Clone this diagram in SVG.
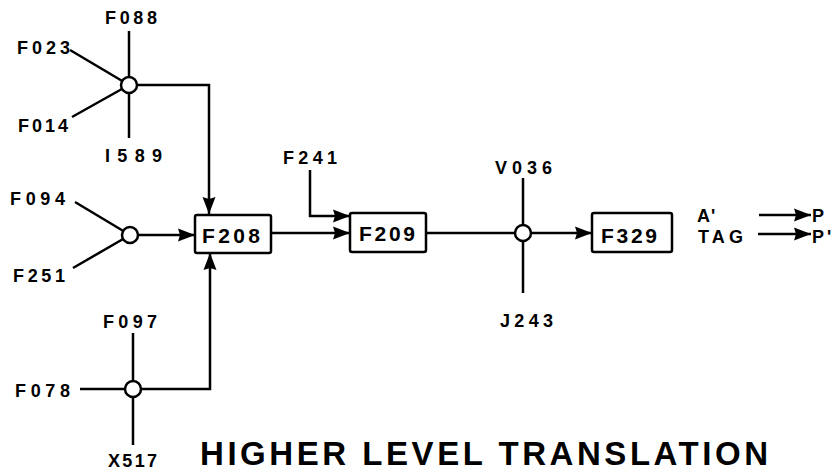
<svg xmlns="http://www.w3.org/2000/svg" width="839" height="472" viewBox="0 0 839 472">
<style>
.ln{fill:none;stroke:#000;stroke-width:2.5;stroke-linejoin:miter}
.ar{fill:none;stroke:#000;stroke-width:2.5;marker-end:url(#ah)}
.jn{fill:#fff;stroke:#000;stroke-width:2.5}
.bx{fill:#fff;stroke:#000;stroke-width:2.5}
.lb{font-family:"Liberation Sans",Arial,sans-serif;font-weight:bold;font-size:18px;fill:#000}
.bt{font-family:"Liberation Sans",Arial,sans-serif;font-weight:bold;font-size:21px;fill:#000}
.tt{font-family:"Liberation Sans",Arial,sans-serif;font-weight:bold;font-size:33px;fill:#000}
</style>
<defs>
<marker id="ah" markerUnits="userSpaceOnUse" markerWidth="18" markerHeight="14" refX="17" refY="7" orient="auto">
<path d="M0,0.5 L17,7 L0,13.5 L2,7 Z" fill="#000"/>
</marker>
</defs>
<rect width="839" height="472" fill="#fff"/>
<g id="connectors">
<line class="ln" x1="70" y1="50" x2="129" y2="85"/>
<line class="ln" x1="72" y1="117" x2="129" y2="85"/>
<line class="ln" x1="129" y1="31" x2="129" y2="138"/>
<polyline class="ar" points="129,85 209,85 209,214"/>
<line class="ln" x1="75" y1="202" x2="130" y2="235"/>
<line class="ln" x1="73" y1="268" x2="130" y2="235"/>
<line class="ar" x1="130" y1="235" x2="195" y2="235"/>
<line class="ln" x1="133" y1="333" x2="133" y2="445"/>
<line class="ln" x1="80" y1="389" x2="133" y2="389"/>
<polyline class="ar" points="133,389 210,389 210,253"/>
<polyline class="ar" points="310,170 310,216 350,216"/>
<line class="ar" x1="271" y1="233" x2="350" y2="233"/>
<line class="ln" x1="426" y1="233" x2="523" y2="233"/>
<line class="ar" x1="523" y1="233" x2="592" y2="233"/>
<line class="ln" x1="523" y1="178" x2="523" y2="293"/>
<line class="ar" x1="759" y1="215" x2="811" y2="215"/>
<line class="ar" x1="758" y1="234" x2="811" y2="234"/>
</g>
<g id="j-top"><circle class="jn" cx="129" cy="85" r="8"/></g>
<g id="j-mid"><circle class="jn" cx="130" cy="235" r="8"/></g>
<g id="j-bot"><circle class="jn" cx="133" cy="389" r="8"/></g>
<g id="j-right"><circle class="jn" cx="523" cy="233" r="8"/></g>
<g id="F208"><rect class="bx" x="195" y="215" width="76" height="38" rx="2"/><text class="bt" x="202" y="243" textLength="58" lengthAdjust="spacing">F208</text></g>
<g id="F209"><rect class="bx" x="350" y="213" width="76" height="39" rx="2"/><text class="bt" x="359" y="241" textLength="56" lengthAdjust="spacing">F209</text></g>
<g id="F329"><rect class="bx" x="592" y="213" width="80" height="39" rx="2"/><text class="bt" x="601" y="243" textLength="56" lengthAdjust="spacing">F329</text></g>
<g id="labels">
<text class="lb" x="105" y="24" textLength="52" lengthAdjust="spacing">F088</text>
<text class="lb" x="17" y="54" textLength="53" lengthAdjust="spacing">F023</text>
<text class="lb" x="18" y="132" textLength="50" lengthAdjust="spacing">F014</text>
<text class="lb" x="105" y="162" textLength="57" lengthAdjust="spacing">I589</text>
<text class="lb" x="10" y="205" textLength="55" lengthAdjust="spacing">F094</text>
<text class="lb" x="13" y="282" textLength="52" lengthAdjust="spacing">F251</text>
<text class="lb" x="103" y="328" textLength="54" lengthAdjust="spacing">F097</text>
<text class="lb" x="15" y="397" textLength="55" lengthAdjust="spacing">F078</text>
<text class="lb" x="108" y="467" textLength="49" lengthAdjust="spacing">X517</text>
<text class="lb" x="283" y="164" textLength="54" lengthAdjust="spacing">F241</text>
<text class="lb" x="495" y="174" textLength="57" lengthAdjust="spacing">V036</text>
<text class="lb" x="500" y="327" textLength="53" lengthAdjust="spacing">J243</text>
<text class="lb" x="697" y="222" letter-spacing="1">A'</text>
<text class="lb" x="698" y="243" textLength="45" lengthAdjust="spacing">TAG</text>
<text class="lb" x="812" y="222">P</text>
<text class="lb" x="812" y="243" letter-spacing="3">P'</text>
</g>
<g id="title"><text class="tt" x="200" y="465" textLength="568" lengthAdjust="spacing">HIGHER LEVEL TRANSLATION</text></g>
</svg>
